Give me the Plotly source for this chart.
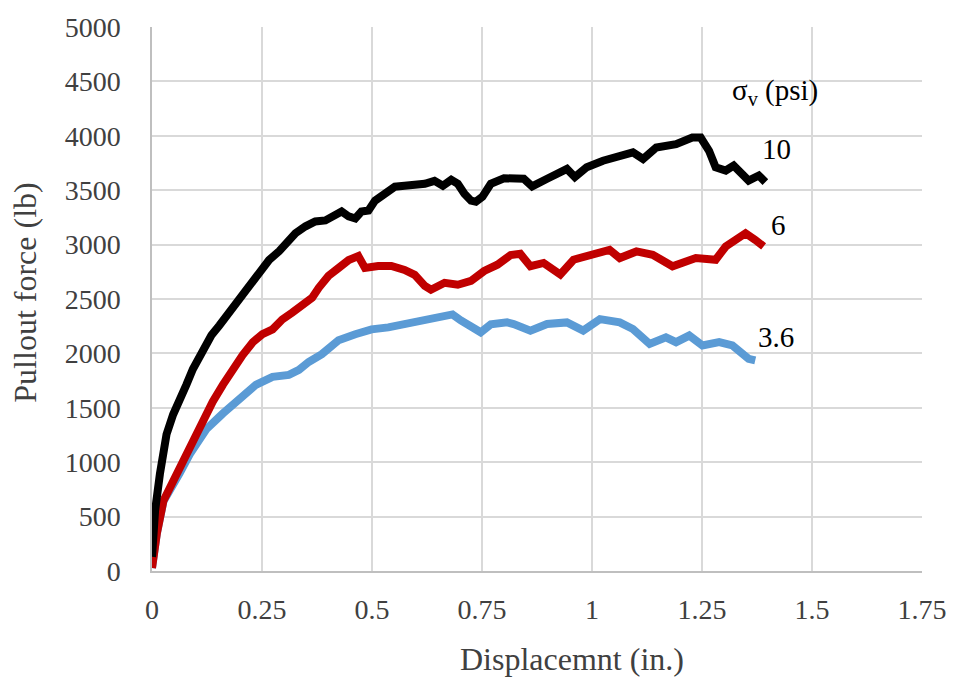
import plotly.graph_objects as go

# sigma_v = 10 psi
x10 = [0.0, 0.007, 0.018, 0.033, 0.048, 0.063, 0.078, 0.093, 0.116, 0.135, 0.153, 0.176, 0.198,
       0.221, 0.244, 0.266, 0.289, 0.311, 0.326, 0.349, 0.371, 0.394, 0.417, 0.431, 0.447, 0.462,
       0.476, 0.492, 0.507, 0.529, 0.552, 0.574, 0.597, 0.620, 0.642, 0.661, 0.680, 0.695, 0.710,
       0.725, 0.736, 0.751, 0.770, 0.800, 0.845, 0.864, 0.898, 0.943, 0.961, 0.988, 1.025, 1.055,
       1.093, 1.116, 1.146, 1.191, 1.228, 1.247, 1.266, 1.281, 1.304, 1.322, 1.341, 1.356, 1.379, 1.394]
y10 = [130, 555, 892, 1256, 1438, 1556, 1711, 1857, 2039, 2166, 2257, 2376, 2494,
       2631, 2722, 2858, 2940, 3031, 3104, 3168, 3213, 3222, 3286, 3304, 3259, 3240,
       3304, 3313, 3404, 3468, 3532, 3541, 3541, 3559, 3586, 3541, 3595, 3559, 3468,
       3404, 3395, 3441, 3559, 3610, 3605, 3535, 3605, 3696, 3620, 3711, 3771, 3802,
       3847, 3787, 3893, 3923, 3984, 3984, 3862, 3711, 3681, 3726, 3635, 3589, 3635, 3574]

# sigma_v = 6 psi
x6 = [0.0, 0.011, 0.026, 0.048, 0.071, 0.093, 0.116, 0.138, 0.161, 0.183, 0.206, 0.229, 0.251,
      0.274, 0.296, 0.319, 0.341, 0.364, 0.379, 0.401, 0.424, 0.447, 0.469, 0.484, 0.514, 0.544,
      0.574, 0.597, 0.620, 0.634, 0.665, 0.695, 0.725, 0.755, 0.785, 0.815, 0.837, 0.860, 0.890,
      0.928, 0.958, 1.003, 1.040, 1.063, 1.101, 1.138, 1.183, 1.236, 1.281, 1.304, 1.349, 1.371, 1.390]
y6 = [27, 346, 646, 828, 1010, 1192, 1374, 1556, 1711, 1857, 1984, 2103, 2176,
      2221, 2312, 2376, 2439, 2512, 2603, 2712, 2785, 2858, 2894, 2785, 2803, 2803,
      2767, 2722, 2621, 2585, 2649, 2631, 2667, 2758, 2815, 2904, 2915, 2801, 2831,
      2725, 2861, 2907, 2952, 2876, 2937, 2907, 2801, 2876, 2861, 2983, 3104, 3043, 2983]

# sigma_v = 3.6 psi
x36 = [0.0, 0.011, 0.026, 0.044, 0.063, 0.086, 0.123, 0.161, 0.198, 0.236, 0.274, 0.311, 0.334,
       0.356, 0.386, 0.424, 0.462, 0.499, 0.537, 0.574, 0.612, 0.650, 0.683, 0.702, 0.725, 0.747,
       0.770, 0.807, 0.822, 0.860, 0.898, 0.943, 0.980, 1.018, 1.063, 1.093, 1.131, 1.168, 1.191,
       1.221, 1.251, 1.289, 1.319, 1.341, 1.356, 1.371]
y36 = [27, 346, 640, 755, 900, 1074, 1301, 1447, 1584, 1711, 1784, 1802, 1848,
       1921, 1993, 2121, 2176, 2221, 2239, 2267, 2303, 2321, 2358, 2303, 2257, 2194,
       2267, 2285, 2270, 2209, 2270, 2285, 2209, 2315, 2285, 2224, 2087, 2148, 2103,
       2164, 2073, 2103, 2073, 1996, 1950, 1936]

series = [("3.6", x36, y36, "#5B9BD5"), ("6", x6, y6, "#C00000"), ("10", x10, y10, "#000000")]

x_ticks = [0, 0.25, 0.5, 0.75, 1, 1.25, 1.5, 1.75]
x_tick_labels = ["0", "0.25", "0.5", "0.75", "1", "1.25", "1.5", "1.75"]
y_ticks = list(range(0, 5001, 500))

font_family = "Times New Roman"

fig = go.Figure()
for name, xs, ys, col in series:
    fig.add_trace(go.Scatter(x=xs, y=ys, mode="lines", name=name,
                             line=dict(color=col, width=8, shape="linear")))

labels = [("σ<sub>v</sub> (psi)", 1.416, 4405), ("10", 1.419, 3880), ("6", 1.423, 3180), ("3.6", 1.419, 2155)]
for txt, ax_, ay_ in labels:
    fig.add_annotation(x=ax_, y=ay_, xref="x", yref="y", text=txt, showarrow=False,
                       font=dict(family=font_family, size=29, color="#000000"))

fig.add_annotation(x=0.545, y=-0.162, xref="paper", yref="paper", text="Displacemnt (in.)",
                   showarrow=False, yanchor="middle", xanchor="center",
                   font=dict(family=font_family, size=32, color="#404040"))
fig.add_annotation(x=-0.165, y=0.5115, xref="paper", yref="paper", text="Pullout force (lb)",
                   showarrow=False, textangle=-90, yanchor="middle", xanchor="center",
                   font=dict(family=font_family, size=32, color="#404040"))

fig.update_layout(
    width=959, height=679,
    margin=dict(l=152, r=28, t=20, b=108),
    paper_bgcolor="white", plot_bgcolor="white",
    showlegend=False,
    font=dict(family=font_family, size=28, color="#404040"),
    xaxis=dict(range=[0, 1.75], tickvals=x_ticks, ticktext=x_tick_labels,
               showgrid=True, gridcolor="#d9d9d9", gridwidth=1.5,
               showline=True, linecolor="#bfbfbf", linewidth=1.5, zeroline=False,
               ticks="", ticklabelstandoff=13,
               tickfont=dict(family=font_family, size=28, color="#404040")),
    yaxis=dict(range=[0, 5000], tickvals=y_ticks,
               showgrid=True, gridcolor="#d9d9d9", gridwidth=1.5,
               showline=True, linecolor="#bfbfbf", linewidth=1.5, zeroline=False,
               ticks="", ticklabelstandoff=24,
               tickfont=dict(family=font_family, size=28, color="#404040")),
)

fig.write_html("out.html")
